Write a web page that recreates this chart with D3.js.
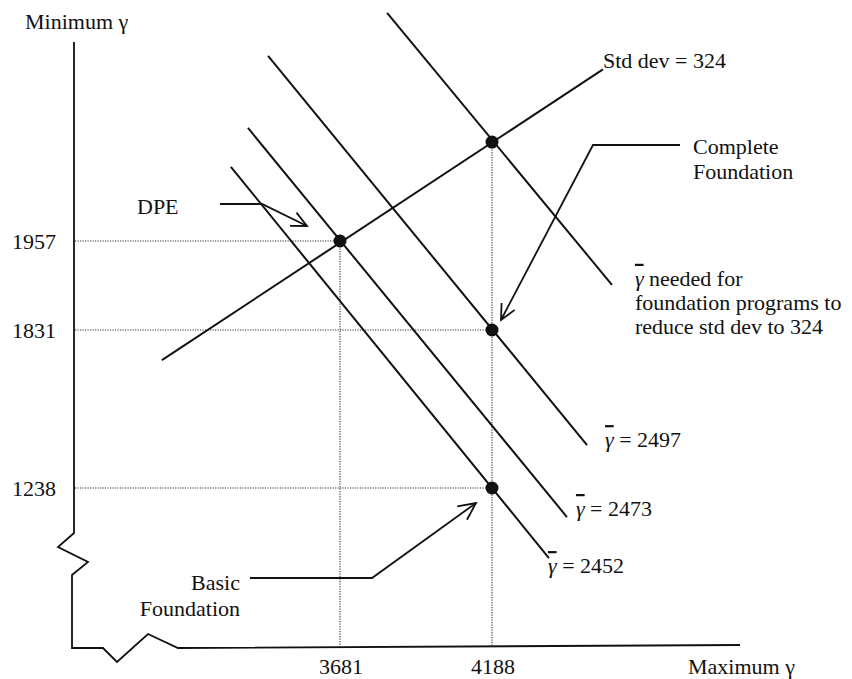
<!DOCTYPE html>
<html>
<head>
<meta charset="utf-8">
<script src="https://cdn.jsdelivr.net/npm/d3@7"></script>
<style>
  body { margin: 0; background: #fff; }
  text { font-family: "Liberation Serif", "Times New Roman", serif; font-size: 22px; fill: #111; }
</style>
</head>
<body>
<div id="chart"></div>
<script>
// values (schematic chart)
const xTicks = [3681, 4188];
const yTicks = [1238, 1831, 1957];
const xAxisTitle = "Maximum γ";
const yAxisTitle = "Minimum γ";

// marked points: DPE, top of std dev line, complete and basic foundation
const points = [
  { x: 3681, y: 1957, guideH: true },
  { x: 4188, y: 2097, guideH: false },
  { x: 4188, y: 1831, guideH: true },
  { x: 4188, y: 1238, guideH: true }
];

// std dev = 324 line
const stdDevLine = [[3087, 1718], [4558, 2200]];

// iso-mean lines (gamma bar)
const meanLines = [
  { name: "needed", from: [3838, 2280], to: [4588, 1895] },
  { name: "2497", from: [3441, 2219], to: [4505, 1399] },
  { name: "2473", from: [3374, 2117], to: [4438, 1129] },
  { name: "2452", from: [3317, 2062], to: [4378, 975] }
];

const width = 852;
const height = 679;
const axisX = 73;     // y axis position
const axisY = 648;    // x axis position
const axisTop = 42;
const axisRight = 740;

const svg = d3.select("#chart")
  .append("svg")
  .attr("width", width)
  .attr("height", height);

// the y axis is not to scale in the original, so a piecewise scale is used
const x = d3.scaleLinear().domain([3681, 4188]).range([340, 492]);
const y = d3.scaleLinear().domain([1238, 1831, 1957]).range([488, 330, 241]);

const black = "#111";

// axes with break marks
svg.append("path")
  .attr("d", `M${axisX + 1},${axisTop} L${axisX + 1},533 L${axisX - 15},547 L${axisX + 15},562 L${axisX - 1},575 L${axisX - 1},${axisY}`
    + ` L103,${axisY} L117,662 L148,634 L178,${axisY} L${axisRight},${axisY - 3}`)
  .attr("fill", "none")
  .attr("stroke", black)
  .attr("stroke-width", 1.8);

// dotted guides
const guides = svg.append("g")
  .attr("stroke", "#333")
  .attr("stroke-width", 1.1)
  .attr("stroke-dasharray", "1.2,1.3");

points.filter(d => d.guideH).forEach(d => {
  guides.append("line")
    .attr("x1", axisX + 2).attr("x2", x(d.x))
    .attr("y1", y(d.y)).attr("y2", y(d.y));
});
d3.groups(points, d => d.x).forEach(([xv, pts]) => {
  const top = d3.max(pts, d => d.y);
  guides.append("line")
    .attr("x1", x(xv)).attr("x2", x(xv))
    .attr("y1", y(top)).attr("y2", axisY - 1);
});

// lines
const line = d3.line().x(d => x(d[0])).y(d => y(d[1]));

svg.selectAll(".mean")
  .data(meanLines)
  .enter()
  .append("path")
  .attr("class", "mean")
  .attr("d", d => line([d.from, d.to]))
  .attr("fill", "none")
  .attr("stroke", black)
  .attr("stroke-width", 2);

svg.append("path")
  .attr("d", line(stdDevLine))
  .attr("fill", "none")
  .attr("stroke", black)
  .attr("stroke-width", 2);

svg.selectAll("circle")
  .data(points)
  .enter()
  .append("circle")
  .attr("cx", d => x(d.x))
  .attr("cy", d => y(d.y))
  .attr("r", 6.5)
  .attr("fill", black);

// tick labels
svg.selectAll(".ytick")
  .data(yTicks)
  .enter()
  .append("text")
  .attr("class", "ytick")
  .attr("x", 56)
  .attr("y", d => y(d) + 8)
  .attr("text-anchor", "end")
  .text(d => d);

svg.selectAll(".xtick")
  .data(xTicks)
  .enter()
  .append("text")
  .attr("class", "xtick")
  .attr("x", d => x(d) + 1)
  .attr("y", 674)
  .attr("text-anchor", "middle")
  .text(d => d);

svg.append("text").attr("x", 688).attr("y", 674).text(xAxisTitle);
svg.append("text").attr("x", 25).attr("y", 29).text(yAxisTitle);

// gamma-bar labels
function gammaBar(t) {
  t.append("tspan")
    .style("font-style", "italic")
    .style("text-decoration", "overline")
    .text("γ");
}

const labelOffset = { "2497": [18, 2], "2473": [9, -1], "2452": [-1, 15] };
meanLines.filter(d => d.name !== "needed").forEach(d => {
  const [dx, dy] = labelOffset[d.name];
  const t = svg.append("text")
    .attr("x", x(d.to[0]) + dx)
    .attr("y", y(d.to[1]) + dy);
  gammaBar(t);
  t.append("tspan").text(" = " + d.name);
});

const needed = meanLines[0];
const nx = x(needed.to[0]) + 23;
const ny = y(needed.to[1]);
const t1 = svg.append("text").attr("x", nx).attr("y", ny + 1);
gammaBar(t1);
t1.append("tspan").text("  needed for");
svg.append("text").attr("x", nx).attr("y", ny + 25).text("foundation programs to");
svg.append("text").attr("x", nx).attr("y", ny + 49).text("reduce std dev to 324");

svg.append("text")
  .attr("x", x(stdDevLine[1][0]))
  .attr("y", y(stdDevLine[1][1]) - 1)
  .text("Std dev = 324");

// annotations with arrows
const arrowStroke = { fill: "none", stroke: black, "stroke-width": 1.8 };
function arrow(pathPts, headLen) {
  const g = svg.append("g");
  const p = g.append("path").attr("d", d3.line()(pathPts));
  const n = pathPts.length;
  const [tx, ty] = pathPts[n - 1];
  const [sx, sy] = pathPts[n - 2];
  const ang = Math.atan2(ty - sy, tx - sx);
  const head = [
    [tx - headLen * Math.cos(ang - 0.45), ty - headLen * Math.sin(ang - 0.45)],
    [tx, ty],
    [tx - headLen * Math.cos(ang + 0.45), ty - headLen * Math.sin(ang + 0.45)]
  ];
  const h = g.append("path").attr("d", d3.line()(head));
  [p, h].forEach(s => Object.entries(arrowStroke).forEach(([k, v]) => s.attr(k, v)));
}

// DPE
const dpe = points[0];
svg.append("text").attr("x", 137).attr("y", y(dpe.y) - 27).text("DPE");
arrow([[220, y(dpe.y) - 37], [262, y(dpe.y) - 37], [x(dpe.x) - 33, y(dpe.y) - 15]], 17);

// Complete foundation
const comp = points[2];
svg.append("text").attr("x", 693).attr("y", 154).text("Complete");
svg.append("text").attr("x", 693).attr("y", 179).text("Foundation");
arrow([[680, 145], [593, 145], [x(comp.x) + 9, y(comp.y) - 10]], 17);

// Basic foundation
const basic = points[3];
svg.append("text").attr("x", 240).attr("y", 590).attr("text-anchor", "end").text("Basic");
svg.append("text").attr("x", 240).attr("y", 616).attr("text-anchor", "end").text("Foundation");
arrow([[250, 578], [372, 578], [x(basic.x) - 16, y(basic.y) + 15]], 19);
</script>
</body>
</html>
